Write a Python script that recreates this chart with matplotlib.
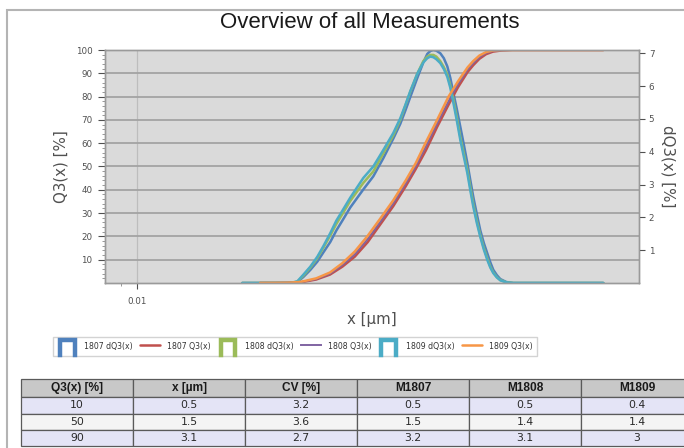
import numpy as np
import matplotlib
matplotlib.use("Agg")
import matplotlib.pyplot as plt
from matplotlib.lines import Line2D
from matplotlib.legend_handler import HandlerBase
from matplotlib.patches import Rectangle

# particle size classes [um] for the density curves
size_dq3 = [0.066, 0.157, 0.178, 0.198, 0.225, 0.255, 0.284, 0.322, 0.359, 0.40,
            0.461, 0.583, 0.698, 0.835, 1.0, 1.134, 1.241, 1.358, 1.54, 1.715,
            1.843, 1.946, 2.054, 2.167, 2.329, 2.481, 2.642, 2.788, 2.943, 3.134,
            3.337, 3.554, 3.786, 3.996, 4.217, 4.49, 4.783, 5.093, 5.425, 5.725,
            6.043, 6.437, 6.854, 7.634, 8.66, 43.7]

dq3_1807 = [0, 0, 0.03, 0.18, 0.4, 0.65, 0.93, 1.25, 1.6, 1.9,
            2.3, 2.85, 3.25, 3.8, 4.4, 4.85, 5.25, 5.67, 6.25, 6.72,
            6.98, 7.07, 7.1, 7.08, 7.0, 6.85, 6.6, 6.25, 5.8, 5.3,
            4.76, 4.22, 3.66, 3.13, 2.62, 2.1, 1.6, 1.22, 0.9, 0.63,
            0.4, 0.24, 0.12, 0.03, 0, 0]
dq3_1808 = [0, 0, 0.04, 0.22, 0.47, 0.76, 1.07, 1.45, 1.8, 2.1,
            2.5, 3.05, 3.4, 3.95, 4.5, 4.97, 5.4, 5.83, 6.38, 6.76,
            6.9, 6.95, 6.95, 6.9, 6.76, 6.58, 6.35, 6.02, 5.6, 5.05,
            4.45, 3.95, 3.45, 2.92, 2.4, 1.9, 1.45, 1.07, 0.75, 0.5,
            0.32, 0.18, 0.09, 0.02, 0, 0]
dq3_1809 = [0, 0, 0.05, 0.25, 0.5, 0.8, 1.12, 1.52, 1.9, 2.2,
            2.6, 3.2, 3.55, 4.05, 4.57, 5.02, 5.42, 5.85, 6.38, 6.72,
            6.85, 6.9, 6.88, 6.82, 6.7, 6.52, 6.28, 5.95, 5.5, 4.95,
            4.36, 3.85, 3.35, 2.82, 2.32, 1.83, 1.4, 1.02, 0.7, 0.47,
            0.3, 0.17, 0.08, 0.02, 0, 0]

# cumulative curves
size_q3 = [0.091, 0.12, 0.15, 0.19, 0.25, 0.32, 0.40, 0.50, 0.63, 0.80, 1.0,
           1.25, 1.5, 1.8, 2.2, 2.7, 3.2, 3.8, 4.2, 4.7, 5.3, 6.0, 7.0, 8.5, 43.7]
q3_1807 = [0, 0.01, 0.05, 0.3, 1.5, 3.6, 7.0, 11.3, 17.5, 25.5, 33,
           41.5, 49, 57, 67, 76.5, 84, 90.5, 93.4, 96.2, 98.2, 99.3, 99.8, 100, 100]
q3_1808 = [0, 0.015, 0.07, 0.4, 1.7, 4.0, 7.7, 12.3, 18.8, 26.6, 34.2,
           42.7, 50.2, 58.7, 68.5, 78, 85.3, 91.6, 94.3, 96.9, 98.7, 99.6, 99.9, 100, 100]
q3_1809 = [0, 0.02, 0.1, 0.5, 2.0, 4.5, 8.5, 13.5, 20.2, 28, 35.5,
           44, 51.5, 60.5, 70, 80, 86.5, 92.5, 95.2, 97.6, 99.1, 99.8, 100, 100, 100]

# result table
col_labels = ["Q3(x) [%]", "x [µm]", "CV [%]", "M1807", "M1808", "M1809"]
q3_levels = ["10", "50", "90"]
x_mean = ["0.5", "1.5", "3.1"]
cv = ["3.2", "3.6", "2.7"]
m1807 = ["0.5", "1.5", "3.2"]
m1808 = ["0.5", "1.4", "3.1"]
m1809 = ["0.4", "1.4", "3"]

BLUE, RED, GREEN = "#4F81BD", "#C0504D", "#9BBB59"
PURPLE, AQUA, ORANGE = "#8064A2", "#4BACC6", "#F79646"
TXT = "#505050"
DQ3_MAX = 7.1


class OpenBoxHandler(HandlerBase):
    # bar-like legend icon: open at the bottom
    def create_artists(self, legend, orig_handle, xdescent, ydescent,
                       width, height, fontsize, trans):
        x0, y0 = -xdescent + 2, -ydescent - 3
        w, h = width - 4, height + 4
        ln = Line2D([x0, x0, x0 + w, x0 + w], [y0, y0 + h, y0 + h, y0],
                    color=orig_handle.get_color(), lw=3.2,
                    solid_joinstyle="miter", transform=trans)
        return [ln]


fig = plt.figure(figsize=(6.84, 4.48), dpi=100)
fig.patch.set_facecolor("white")

# outer frame
fig.patches.append(Rectangle((7 / 684, -0.2), 2, 1 - 10 / 448 + 0.2,
                             transform=fig.transFigure, fill=False,
                             edgecolor="#b4b4b4", lw=1.5))

ax = fig.add_axes([105 / 684, 1 - 283 / 448, 534 / 684, 233 / 448])
ax.set_facecolor("#dadada")
ax.set_xscale("log")
ax.set_xlim(0.0056, 83)
ax.set_ylim(0, 100)
ax2 = ax.twinx()
ax2.set_ylim(0, DQ3_MAX)

# gridlines
ax.set_yticks(np.arange(10, 101, 10))
ax.set_yticks(np.arange(2, 100, 2), minor=True)
ax.yaxis.grid(True, which="major", color="#a3a3a3", lw=1.3)
ax.set_xticks([0.01])
ax.set_xticks([0.0075], minor=True)
ax.set_xticklabels(["0.01"])
ax.xaxis.set_minor_formatter(plt.NullFormatter())
ax.xaxis.grid(True, which="major", color="#bdbdbd", lw=0.9)
ax.set_axisbelow(True)

# density curves are drawn on the left axes (scaled to the right axis range)
# so that they share one drawing order with the cumulative curves
scale = 100 / DQ3_MAX
kw = dict(lw=1.8, solid_joinstyle="round", solid_capstyle="round")
l1, = ax.plot(size_dq3, np.array(dq3_1807) * scale, color=BLUE, **kw)
q1, = ax.plot(size_q3, q3_1807, color=RED, **kw)
l2, = ax.plot(size_dq3, np.array(dq3_1808) * scale, color=GREEN, **kw)
q2, = ax.plot(size_q3, q3_1808, color=PURPLE, lw=1.4, solid_joinstyle="round")
l3, = ax.plot(size_dq3, np.array(dq3_1809) * scale, color=AQUA, **kw)
q3, = ax.plot(size_q3, q3_1809, color=ORANGE, **kw)

ax2.set_yticks(range(1, 8))
ax2.tick_params(axis="y", labelsize=6.3, colors=TXT, length=4, pad=3, width=0.8)
ax.tick_params(axis="y", which="major", labelsize=6.3, colors=TXT, length=5,
               pad=4, width=0.8)
ax.tick_params(axis="y", which="minor", length=2, width=0.6, colors="#888888")
ax.tick_params(axis="x", which="major", labelsize=6.3, colors=TXT, length=4,
               pad=6, width=0.8)
ax.tick_params(axis="x", which="minor", length=2, width=0.6, colors="#888888")

for a in (ax, ax2):
    for s in a.spines.values():
        s.set_color("#9a9a9a")
        s.set_linewidth(1.0)

ax.set_ylabel("Q3(x) [%]", fontsize=10.8, color=TXT, va="center")
ax.yaxis.set_label_coords(-0.083, 0.5)
ax2.set_ylabel("dQ3(x) [%]", fontsize=10.8, color=TXT, rotation=270, va="center")
ax2.yaxis.set_label_coords(1.054, 0.5)
ax.set_xlabel("x [µm]", fontsize=10.8, color=TXT, va="top")
ax.xaxis.set_label_coords(0.5, -0.125)

fig.text(0.541, 1 - 22 / 448, "Overview of all Measurements", ha="center",
         va="center", fontsize=16, family="Liberation Sans", color="#1a1a1a")

box = OpenBoxHandler()
leg = fig.legend([l1, q1, l2, q2, l3, q3],
                 ["1807 dQ3(x)", "1807 Q3(x)", "1808 dQ3(x)", "1808 Q3(x)",
                  "1809 dQ3(x)", "1809 Q3(x)"],
                 handler_map={l1: box, l2: box, l3: box},
                 loc="upper left", bbox_to_anchor=(53 / 684, 1 - 337 / 448),
                 ncol=6, fontsize=5.6, frameon=True, fancybox=False,
                 edgecolor="#c8c8c8", borderpad=0.55, handlelength=2.6,
                 handleheight=1.6, handletextpad=0.9, columnspacing=0.9,
                 borderaxespad=0)
leg.get_frame().set_linewidth(1.0)
for t in leg.get_texts():
    t.set_color("#333333")

# table
tax = fig.add_axes([21 / 684, 1 - 446 / 448, 672 / 684, 67 / 448])
tax.axis("off")
rows = [list(r) for r in zip(q3_levels, x_mean, cv, m1807, m1808, m1809)]
tbl = tax.table(cellText=rows, colLabels=col_labels, cellLoc="center",
                bbox=[0, 0, 1, 1])
tbl.auto_set_font_size(False)
row_fill = ["#e4e4f6", "#f4f4f4", "#e4e4f6"]
for (r, c), cell in tbl.get_celld().items():
    cell.set_edgecolor("#5a5a5a")
    cell.set_linewidth(0.9)
    if r == 0:
        cell.set_height(18)
        cell.set_facecolor("#c8c8c8")
        cell.get_text().set_fontsize(8.6)
        cell.get_text().set_fontweight("bold")
        cell.get_text().set_family("Liberation Sans")
        cell.get_text().set_color("#1a1a1a")
    else:
        cell.set_height(16)
        cell.set_facecolor(row_fill[r - 1])
        cell.get_text().set_fontsize(7.8)
        cell.get_text().set_color("#2a2a2a")

fig.savefig("out.png", dpi=100)
